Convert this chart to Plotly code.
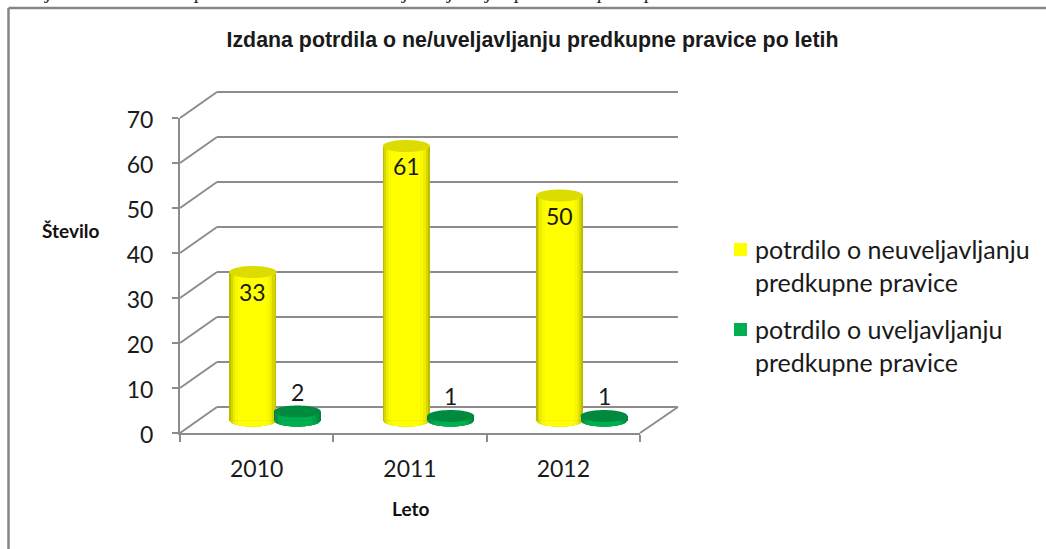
import numpy as np
import plotly.graph_objects as go

W, H = 1046, 549
YEARS = ["2010", "2011", "2012"]
NEUVELJ = [33, 61, 50]
UVELJ = [2, 1, 1]
NAME_A = "potrdilo o neuveljavljanju<br>predkupne pravice"
NAME_B = "potrdilo o uveljavljanju<br>predkupne pravice"
TITLE = "Izdana potrdila o ne/uveljavljanju predkupne pravice po letih"
Y_TICKS = list(range(0, 71, 10))

GRID = "#8c8c8c"
TXT = "#1a1a1a"
PX_UNIT = 4.5
CAT_PX = 153.33
BAR_W = 47 / CAT_PX
HALF = 22.2 / CAT_PX
ELL = 6 / PX_UNIT
X3_ZERO = 275.17
Y3_ZERO = 420.5

LEVELS_A = [(0, 1, "#bdbd00"), (.03, .96, "#d6d600"), (.07, .91, "#ecec00"), (.12, .86, "#f8f800"), (.18, .8, "#ffff00")]
LEVELS_B = [(0, 1, "#00803a"), (.03, .96, "#009444"), (.08, .9, "#00a54b"), (.15, .82, "#00b050")]

def px(x): return x / W
def py(y): return 1 - y / H

fig = go.Figure()

# back wall (grid) axes
fig.add_trace(go.Scatter(x=[0], y=[0], xaxis="x", yaxis="y", mode="markers", marker=dict(opacity=0),
                         showlegend=False, hoverinfo="skip"))
# front axes (ticks and labels)
fig.add_trace(go.Scatter(x=YEARS, y=[0, 0, 0], xaxis="x2", yaxis="y2", mode="markers", marker=dict(opacity=0),
                         showlegend=False, hoverinfo="skip"))

def cylinder(values, centre, levels, name, top):
    values = np.array(values, float)
    cats = np.arange(len(values))
    for i, (a, b, col) in enumerate(levels):
        fig.add_trace(go.Bar(x=cats, y=values, xaxis="x3", yaxis="y3", offset=centre - BAR_W / 2 + a * BAR_W,
                             width=(b - a) * BAR_W, marker=dict(color=col, line=dict(width=0)),
                             name=name, showlegend=False, hoverinfo="y"))
    # rounded foot of each cylinder, split in the same shading bands
    r = BAR_W / 2
    for a, b, col in levels:
        xs, ys = [], []
        for c in cats:
            t = np.linspace(-r + a * BAR_W, -r + b * BAR_W, 25)
            xs += list(c + centre + t) + [c + centre + t[-1], c + centre + t[0], None]
            ys += list(-ELL * np.sqrt(np.clip(1 - (t / r) ** 2, 0, 1))) + [0, 0, None]
        fig.add_trace(go.Scatter(x=xs, y=ys, xaxis="x3", yaxis="y3", mode="none", fill="toself", fillcolor=col,
                                 showlegend=False, hoverinfo="skip"))
    # top ellipse
    th = np.linspace(0, 2 * np.pi, 61)
    xs, ys = [], []
    for c, v in zip(cats, values):
        xs += list(c + centre + r * np.cos(th)) + [None]
        ys += list(v + ELL * np.sin(th)) + [None]
    fig.add_trace(go.Scatter(x=xs, y=ys, xaxis="x3", yaxis="y3", mode="none", fill="toself", fillcolor=top,
                             showlegend=False, hoverinfo="skip"))

cylinder(NEUVELJ, -HALF, LEVELS_A, NAME_A, "#dcdc00")
cylinder(UVELJ, HALF, LEVELS_B, NAME_B, "#008a40")

# the clipped line of italic text above the chart
FRAG_X = [49, 200, 406, 451, 489, 520, 603, 650]
FRAG_T = list("jpjjjppp")
fig.add_trace(go.Scatter(x=[(x - X3_ZERO) / CAT_PX for x in FRAG_X], y=[(Y3_ZERO + 7) / PX_UNIT] * len(FRAG_X),
                         xaxis="x3", yaxis="y3", mode="text", text=[f"<i>{c}</i>" for c in FRAG_T],
                         textfont=dict(family="Liberation Serif", size=20, color="#222222"),
                         textposition="middle center", cliponaxis=True, showlegend=False, hoverinfo="skip"))

shapes = []
line = dict(color=GRID, width=2)
# frame
shapes.append(dict(type="line", xref="paper", yref="paper", x0=px(8.5), x1=1, y0=py(8), y1=py(8), line=dict(color="#868686", width=2.5)))
shapes.append(dict(type="line", xref="paper", yref="paper", x0=px(8.5), x1=px(8.5), y0=py(8), y1=0, line=dict(color="#868686", width=2.5)))
# side wall and floor
for v in Y_TICKS:
    shapes.append(dict(type="line", xref="paper", yref="paper", layer="below", x0=px(180), x1=px(217),
                       y0=py(433 - v * PX_UNIT), y1=py(407 - v * PX_UNIT), line=line))
shapes.append(dict(type="line", xref="paper", yref="paper", layer="below", x0=px(640), x1=px(678), y0=py(433), y1=py(407), line=line))
# legend swatches
for y0, col in [(243, "#ffff00"), (323, "#00b050")]:
    shapes.append(dict(type="rect", xref="paper", yref="paper", x0=px(734), x1=px(747), y0=py(y0), y1=py(y0 + 13),
                       fillcolor=col, line=dict(width=0)))

ann = []
for i, v in enumerate(NEUVELJ):
    ann.append(dict(x=i - HALF, y=v, xref="x3", yref="y3", text=str(v), showarrow=False, yshift=-20,
                    font=dict(family="Lato", size=23, color=TXT)))
for i, v in enumerate(UVELJ):
    ann.append(dict(x=i + HALF, y=v, xref="x3", yref="y3", text=str(v), showarrow=False, yshift=20,
                    font=dict(family="Lato", size=23, color=TXT)))
ann.append(dict(x=px(70.5), y=py(230), xref="paper", yref="paper", text="<b>Število</b>", showarrow=False,
                xanchor="center", yanchor="middle", font=dict(family="Lato", size=19, color="#111111")))
ann.append(dict(x=px(410.5), y=py(508), xref="paper", yref="paper", text="<b>Leto</b>", showarrow=False,
                xanchor="center", yanchor="middle", font=dict(family="Lato", size=19, color="#111111")))
for yc, name in [(266, NAME_A), (345.5, NAME_B)]:
    ann.append(dict(x=px(753), y=py(yc), xref="paper", yref="paper", text=name, showarrow=False, xanchor="left",
                    yanchor="middle", align="left", font=dict(family="Lato", size=25, color=TXT)))

fig.update_layout(
    width=W, height=H, autosize=False,
    margin=dict(l=0, r=0, t=0, b=0, pad=0, autoexpand=False),
    paper_bgcolor="white", plot_bgcolor="rgba(0,0,0,0)",
    barmode="overlay", bargap=0, showlegend=False,
    title=dict(text=TITLE, x=532.5 / W, xanchor="center", y=py(40), yanchor="middle",
               font=dict(family="Liberation Sans", size=21.35, color="#1a1a1a", weight=600)),
    xaxis=dict(domain=[px(217), px(678)], range=[0, 1], visible=False),
    yaxis=dict(domain=[py(409.25), py(89.75)], range=[-0.5, 70.5], tickvals=Y_TICKS, showgrid=True, gridcolor=GRID,
               gridwidth=2, showticklabels=False, ticks="", zeroline=False, showline=False),
    xaxis2=dict(domain=[px(180), px(640)], anchor="y2", type="category", categoryorder="array", categoryarray=YEARS,
                range=[-0.5, 2.5], tickson="boundaries", ticks="outside", ticklen=7, tickcolor=GRID, tickwidth=2,
                showline=True, linecolor=GRID, linewidth=2, showgrid=False, ticklabelstandoff=14, automargin=False,
                tickfont=dict(family="Lato", size=23, color=TXT)),
    yaxis2=dict(domain=[py(433), py(118)], anchor="x2", range=[0, 70], tickvals=Y_TICKS, ticks="outside", ticklen=6,
                tickcolor=GRID, tickwidth=2, showline=True, linecolor=GRID, linewidth=2, showgrid=False, zeroline=False,
                automargin=False, ticklabelstandoff=14, ticklabelshift=2, tickfont=dict(family="Lato", size=23, color=TXT)),
    xaxis3=dict(domain=[0, 1], anchor="y3", range=[(0 - X3_ZERO) / CAT_PX, (W - X3_ZERO) / CAT_PX], visible=False),
    yaxis3=dict(domain=[0, 1], anchor="x3", range=[(Y3_ZERO - H) / PX_UNIT, Y3_ZERO / PX_UNIT], visible=False),
    shapes=shapes, annotations=ann,
)
fig.write_html("out.html", config=dict(displayModeBar=False),
               post_script="document.body.style.margin='0';")
